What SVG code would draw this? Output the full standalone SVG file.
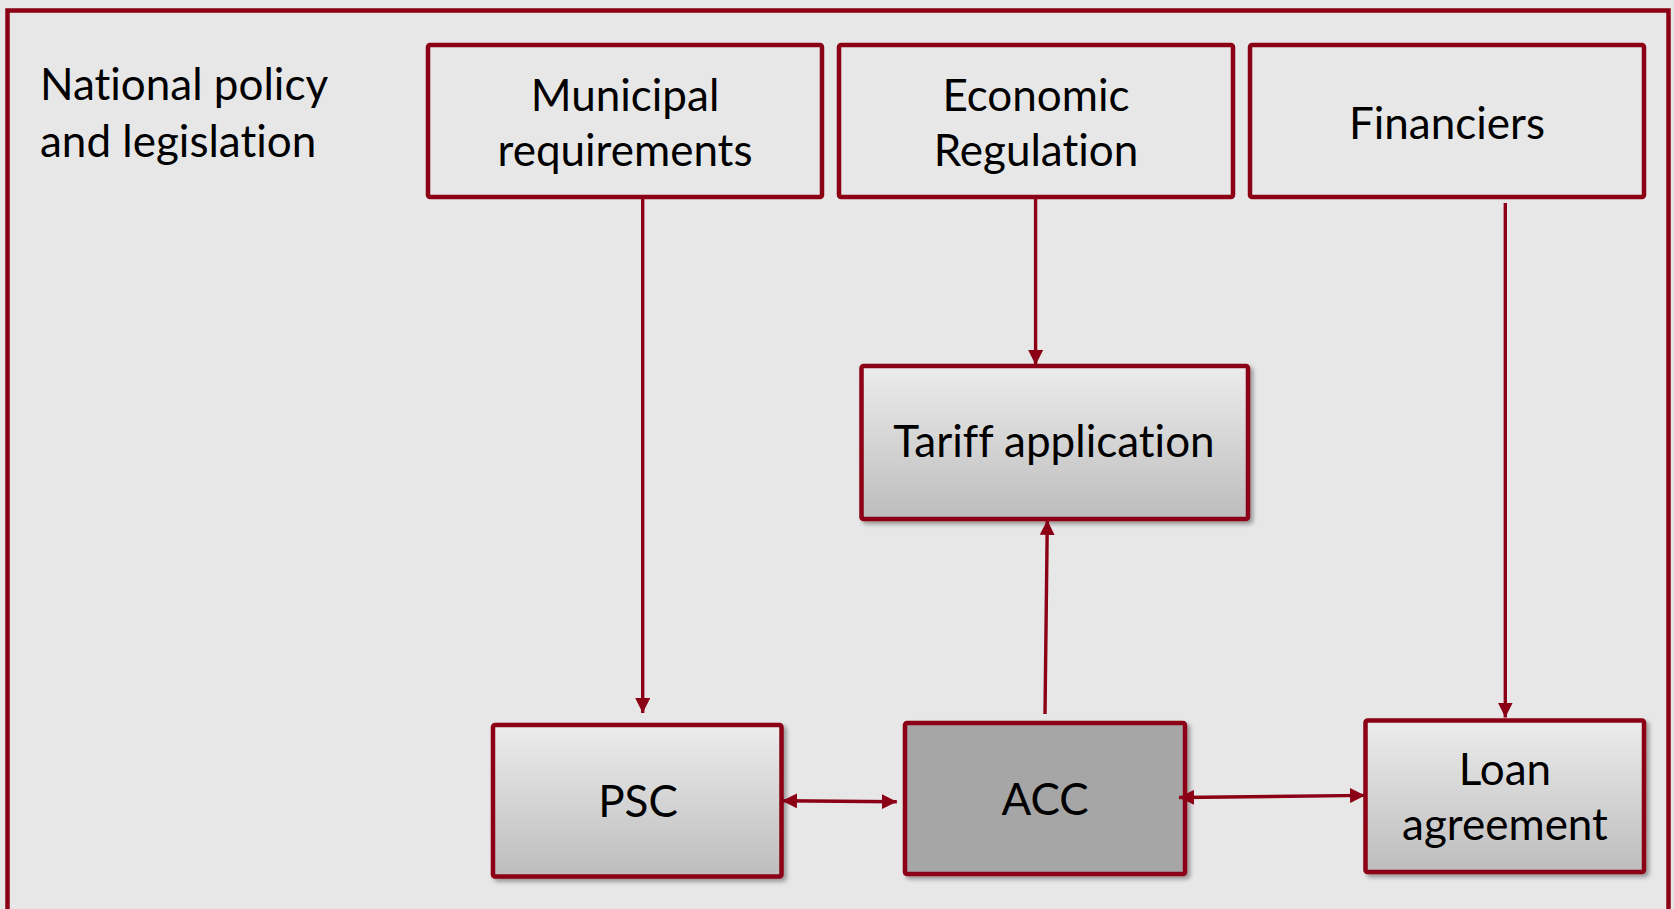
<svg xmlns="http://www.w3.org/2000/svg" width="1674" height="909" viewBox="0 0 1674 909">
<style>
.box{fill:none;stroke:#8B0015;stroke-width:4.5;}
.gbox{fill:url(#g);stroke:#8B0015;stroke-width:4.5;filter:url(#sh);}
.acc{fill:#A6A6A6;stroke:#8B0015;stroke-width:4.5;filter:url(#sh);}
.t{font-family:Lato,"Open Sans",sans-serif;font-size:44px;fill:#000;text-anchor:middle;font-variant-ligatures:none;}
.tl{font-family:Lato,"Open Sans",sans-serif;font-size:44px;fill:#000;font-variant-ligatures:none;}
.c{stroke:#8B0015;stroke-width:3.4;fill:none;}
</style>
<defs>
<linearGradient id="g" x1="0" y1="0" x2="0" y2="1">
<stop offset="0" stop-color="#ECECEC"/>
<stop offset="1" stop-color="#BDBDBD"/>
</linearGradient>
<filter id="sh" x="-10%" y="-10%" width="130%" height="130%">
<feDropShadow dx="3" dy="3" stdDeviation="2" flood-color="#000" flood-opacity="0.35"/>
</filter>
<marker id="ae" viewBox="0 0 10 10" refX="10" refY="5" markerWidth="4.4" markerHeight="4.4" orient="auto" markerUnits="strokeWidth">
<path d="M0,0 L10,5 L0,10 Z" fill="#8B0015"/>
</marker>
<marker id="as" viewBox="0 0 10 10" refX="0" refY="5" markerWidth="4.4" markerHeight="4.4" orient="auto" markerUnits="strokeWidth">
<path d="M10,0 L0,5 L10,10 Z" fill="#8B0015"/>
</marker>
</defs>
<rect x="0" y="0" width="1674" height="909" fill="#E7E7E7"/>
<rect id="frame" x="7.5" y="10.5" width="1661" height="920" fill="none" stroke="#8B0015" stroke-width="4.5"/>
<g id="national">
<text class="tl" x="40" y="100">National policy</text>
<text class="tl" x="40" y="157">and legislation</text>
</g>
<g id="municipal">
<rect class="box" x="428" y="45" width="394" height="152" rx="2"/>
<text class="t" x="625" y="111">Municipal</text>
<text class="t" x="625" y="166">requirements</text>
</g>
<g id="economic">
<rect class="box" x="839" y="45" width="394" height="152" rx="2"/>
<text class="t" x="1036" y="111">Economic</text>
<text class="t" x="1036" y="166">Regulation</text>
</g>
<g id="financiers">
<rect class="box" x="1250" y="45" width="394" height="152" rx="2"/>
<text class="t" x="1447" y="139">Financiers</text>
</g>
<g id="tariff">
<rect class="gbox" x="861.5" y="366" width="386.5" height="153" rx="2"/>
<text class="t" x="1054" y="457">Tariff application</text>
</g>
<g id="psc">
<rect class="gbox" x="493" y="725" width="288.5" height="151.5" rx="2"/>
<text class="t" x="638" y="817">PSC</text>
</g>
<g id="acc">
<rect class="acc" x="905" y="723" width="280" height="151" rx="2"/>
<text class="t" x="1045" y="815">ACC</text>
</g>
<g id="loan">
<rect class="gbox" x="1365.5" y="720.5" width="278.5" height="151.5" rx="2"/>
<text class="t" x="1505" y="785">Loan</text>
<text class="t" x="1505" y="840">agreement</text>
</g>
<g id="connectors">
<line class="c" x1="642.7" y1="199" x2="642.7" y2="713" marker-end="url(#ae)"/>
<line class="c" x1="1035.6" y1="199" x2="1035.6" y2="365" marker-end="url(#ae)"/>
<line class="c" x1="1505.3" y1="203" x2="1505.3" y2="717.5" marker-end="url(#ae)"/>
<line class="c" x1="1045" y1="714" x2="1047.3" y2="520" marker-end="url(#ae)"/>
<line class="c" x1="782" y1="800.7" x2="896.8" y2="801.8" marker-start="url(#as)" marker-end="url(#ae)"/>
<line class="c" x1="1179" y1="797.5" x2="1365" y2="795.4" marker-start="url(#as)" marker-end="url(#ae)"/>
</g>
</svg>
